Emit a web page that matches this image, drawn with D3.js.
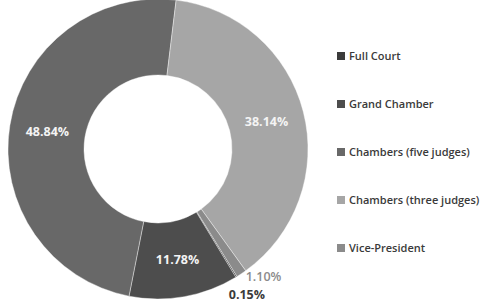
<!DOCTYPE html>
<html>
<head>
<meta charset="utf-8">
<script src="https://cdn.jsdelivr.net/npm/d3@7"></script>
<style>
  body { margin: 0; background: #fff; }
  svg { display: block; font-family: 'Open Sans', sans-serif; }
</style>
</head>
<body>
<div id="chart"></div>
<script>
// data, in drawing order (clockwise)
const categories = ['Full Court', 'Grand Chamber', 'Chambers (five judges)', 'Chambers (three judges)', 'Vice-President'];
const shares = [0.15, 11.78, 48.84, 38.14, 1.10];
const labels = ['0.15%', '11.78%', '48.84%', '38.14%', '1.10%'];
const colors = ['#3b3b3b', '#4d4d4d', '#686868', '#a6a6a6', '#8b8b8b'];

const width = 488;
const height = 305;
const cx = 158;
const cy = 149;
const outerR = 150;
const innerR = 74;
const startDeg = 148.2;

const svg = d3.select('#chart')
  .append('svg')
  .attr('width', width)
  .attr('height', height);

const pie = d3.pie()
  .sort(null)
  .value((d) => d.value)
  .startAngle(startDeg * Math.PI / 180)
  .endAngle((startDeg + 360) * Math.PI / 180);

const rows = categories.map((c, i) => {
  return {name: c, value: shares[i], label: labels[i], color: colors[i]};
});

const arcs = pie(rows);
const arc = d3.arc().innerRadius(innerR).outerRadius(outerR);
const outerArc = d3.arc().innerRadius(170).outerRadius(170);

const g = svg.append('g').attr('transform', 'translate(' + cx + ',' + cy + ')');

g.selectAll('path')
  .data(arcs)
  .enter()
  .append('path')
  .attr('d', arc)
  .attr('fill', (d) => d.data.color)
  .attr('stroke', '#fff')
  .attr('stroke-width', 0.4);

// labels: inside for big slices, outside for tiny ones
g.selectAll('text.c-label')
  .data(arcs)
  .enter()
  .append('text')
  .attr('class', 'c-label')
  .attr('transform', (d) => {
    const small = d.data.value < 5;
    let p = small ? outerArc.centroid(d) : arc.centroid(d);
    if (small && d.index === 4) {
      p = [p[0] + 11, p[1] - 14];
    } else if (small) {
      p = [p[0], p[1] + 1];
    }
    return 'translate(' + p[0] + ',' + p[1] + ')';
  })
  .attr('text-anchor', 'middle')
  .attr('dy', '0.35em')
  .style('font-size', '12.5px')
  .style('font-weight', (d) => d.index === 4 ? 600 : 700)
  .style('fill', (d) => d.data.value < 5 ? d.data.color : '#f4f4f4')
  .text((d) => d.data.label);

// legend
const legend = svg.append('g').attr('transform', 'translate(337,56)');

const item = legend.selectAll('g')
  .data(rows)
  .enter()
  .append('g')
  .attr('transform', (d, i) => 'translate(0,' + i * 48 + ')');

item.append('rect')
  .attr('x', 0)
  .attr('y', -4)
  .attr('width', 8)
  .attr('height', 8)
  .attr('fill', (d) => d.color);

item.append('text')
  .attr('x', 12)
  .attr('dy', '0.35em')
  .style('font-size', '11px')
  .style('font-weight', 600)
  .style('fill', '#3a3a3a')
  .text((d) => d.name);
</script>
</body>
</html>
